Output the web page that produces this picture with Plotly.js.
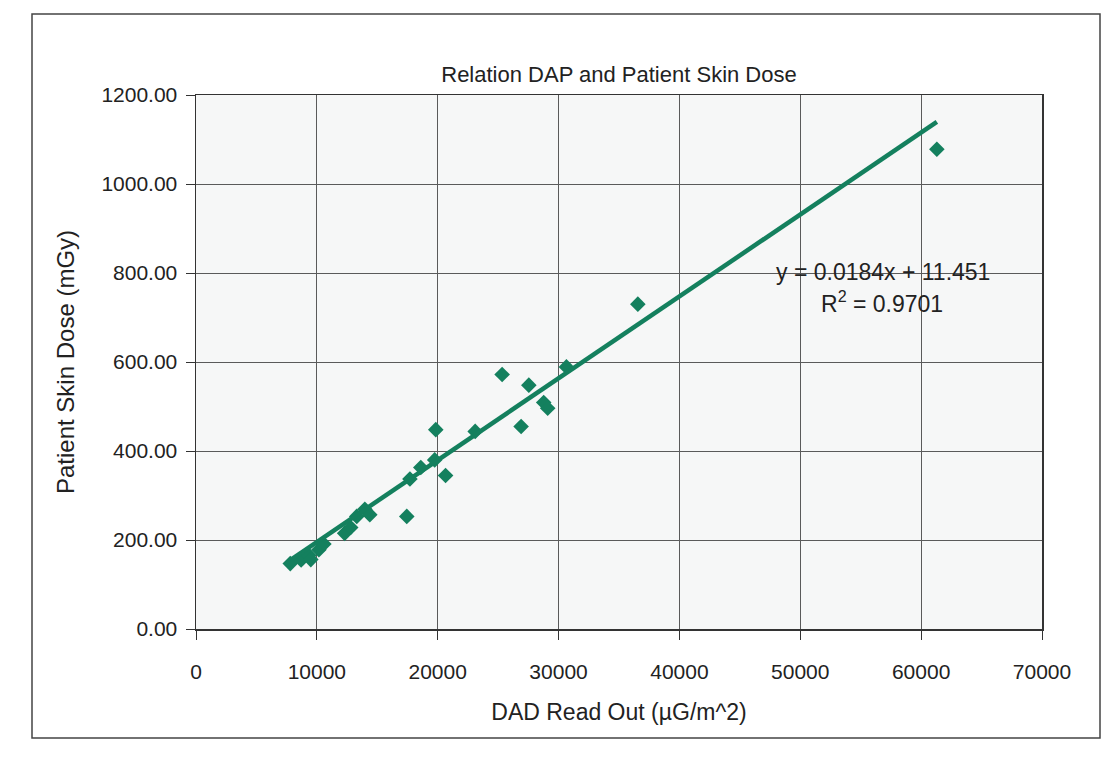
<!DOCTYPE html>
<html>
<head>
<meta charset="utf-8">
<script src="https://cdn.plot.ly/plotly-3.0.1.min.js"></script>
<style>html,body{margin:0;padding:0;background:#fff;}#chart{width:1103px;height:759px;}</style>
</head>
<body>
<div id="chart"></div>
<script>
// DAD read out (µG/m^2)
var dadReadOut = [7800, 8700, 9340, 9500, 10170, 10580, 12300, 12800, 13300, 13970, 14380, 17440,
                  17700, 18600, 19750, 20650, 19840, 23100, 25330, 27540, 26900, 28770, 29100,
                  30650, 36560, 61300];
// Patient skin dose (mGy)
var skinDose = [147, 155, 166, 156, 178, 191, 215, 228, 253, 269, 257, 253,
                337, 363, 380, 345, 448, 444, 572, 548, 455, 509, 496,
                589, 730, 1078];
// Linear trendline as printed on chart: y = slope*x + intercept
var trendSlope = 0.0184;
var trendIntercept = 11.451;
var trendLabel = "y = 0.0184x + 11.451";
var r2Label = "R<sup>2</sup> = 0.9701";
var xTickVals = [0, 10000, 20000, 30000, 40000, 50000, 60000, 70000];
var yTickVals = [0, 200, 400, 600, 800, 1000, 1200];

var green = "#14805e";
var xMin = Math.min.apply(null, dadReadOut);
var xMax = Math.max.apply(null, dadReadOut);
var trendX = [xMin, xMax];
var trendY = trendX.map(function(v){ return trendSlope * v + trendIntercept; });

// plot area in px
var L = 196, R = 1042, T = 95, B = 629;
function px2paperX(p){ return (p - L) / (R - L); }
function px2paperY(p){ return (B - p) / (B - T); }

var font = "Liberation Sans, Arial, Helvetica, sans-serif";
var txt = "#222";

var data = [
  {
    x: dadReadOut, y: skinDose, type: "scatter", mode: "markers",
    marker: {symbol: "diamond", size: 12, color: green},
    showlegend: false, hoverinfo: "x+y"
  },
  {
    x: trendX, y: trendY, type: "scatter", mode: "lines",
    line: {color: green, width: 4.5},
    showlegend: false, hoverinfo: "skip"
  }
];

var layout = {
  width: 1103, height: 759,
  margin: {l: L, r: 1103 - R, t: T, b: 759 - B},
  paper_bgcolor: "#ffffff",
  plot_bgcolor: "#f6f7f7",
  font: {family: font, color: txt, size: 21},
  title: {
    text: "Relation DAP and Patient Skin Dose",
    font: {family: font, size: 22, color: txt},
    x: 0.5, xanchor: "center", xref: "paper",
    y: 1 - 74 / 759, yanchor: "middle", yref: "container"
  },
  xaxis: {
    range: [0, 70000], tickvals: xTickVals, tickformat: "d",
    showgrid: true, gridcolor: "#5a5a5a", gridwidth: 1,
    showline: true, linecolor: "#333", linewidth: 1.5, mirror: true,
    ticks: "outside", ticklen: 9, tickcolor: "#333",
    ticklabelstandoff: 14,
    tickfont: {family: font, size: 21, color: txt},
    zeroline: false,
    title: {text: "DAD Read Out (µG/m^2)", font: {family: font, size: 23, color: txt}, standoff: 22}
  },
  yaxis: {
    range: [0, 1200], tickvals: yTickVals, tickformat: ".2f",
    showgrid: true, gridcolor: "#5a5a5a", gridwidth: 1,
    showline: true, linecolor: "#333", linewidth: 1.5, mirror: true,
    ticks: "outside", ticklen: 9, tickcolor: "#333",
    ticklabelstandoff: 4,
    tickfont: {family: font, size: 21, color: txt},
    zeroline: false,
    title: {text: "Patient Skin Dose (mGy)", font: {family: font, size: 24, color: txt}, standoff: 20}
  },
  annotations: [
    {x: px2paperX(883), y: px2paperY(272), xref: "paper", yref: "paper",
     text: trendLabel, showarrow: false, font: {family: font, size: 23, color: txt},
     xanchor: "center", yanchor: "middle"},
    {x: px2paperX(882), y: px2paperY(302), xref: "paper", yref: "paper",
     text: r2Label, showarrow: false, font: {family: font, size: 23, color: txt},
     xanchor: "center", yanchor: "middle"}
  ],
  shapes: [
    {type: "rect", xref: "paper", yref: "paper",
     x0: px2paperX(32), x1: px2paperX(1100), y0: px2paperY(738), y1: px2paperY(14),
     line: {color: "#444", width: 1.5}, fillcolor: "rgba(0,0,0,0)", layer: "below"}
  ]
};

Plotly.newPlot("chart", data, layout, {displayModeBar: false, staticPlot: true});
</script>
</body>
</html>
